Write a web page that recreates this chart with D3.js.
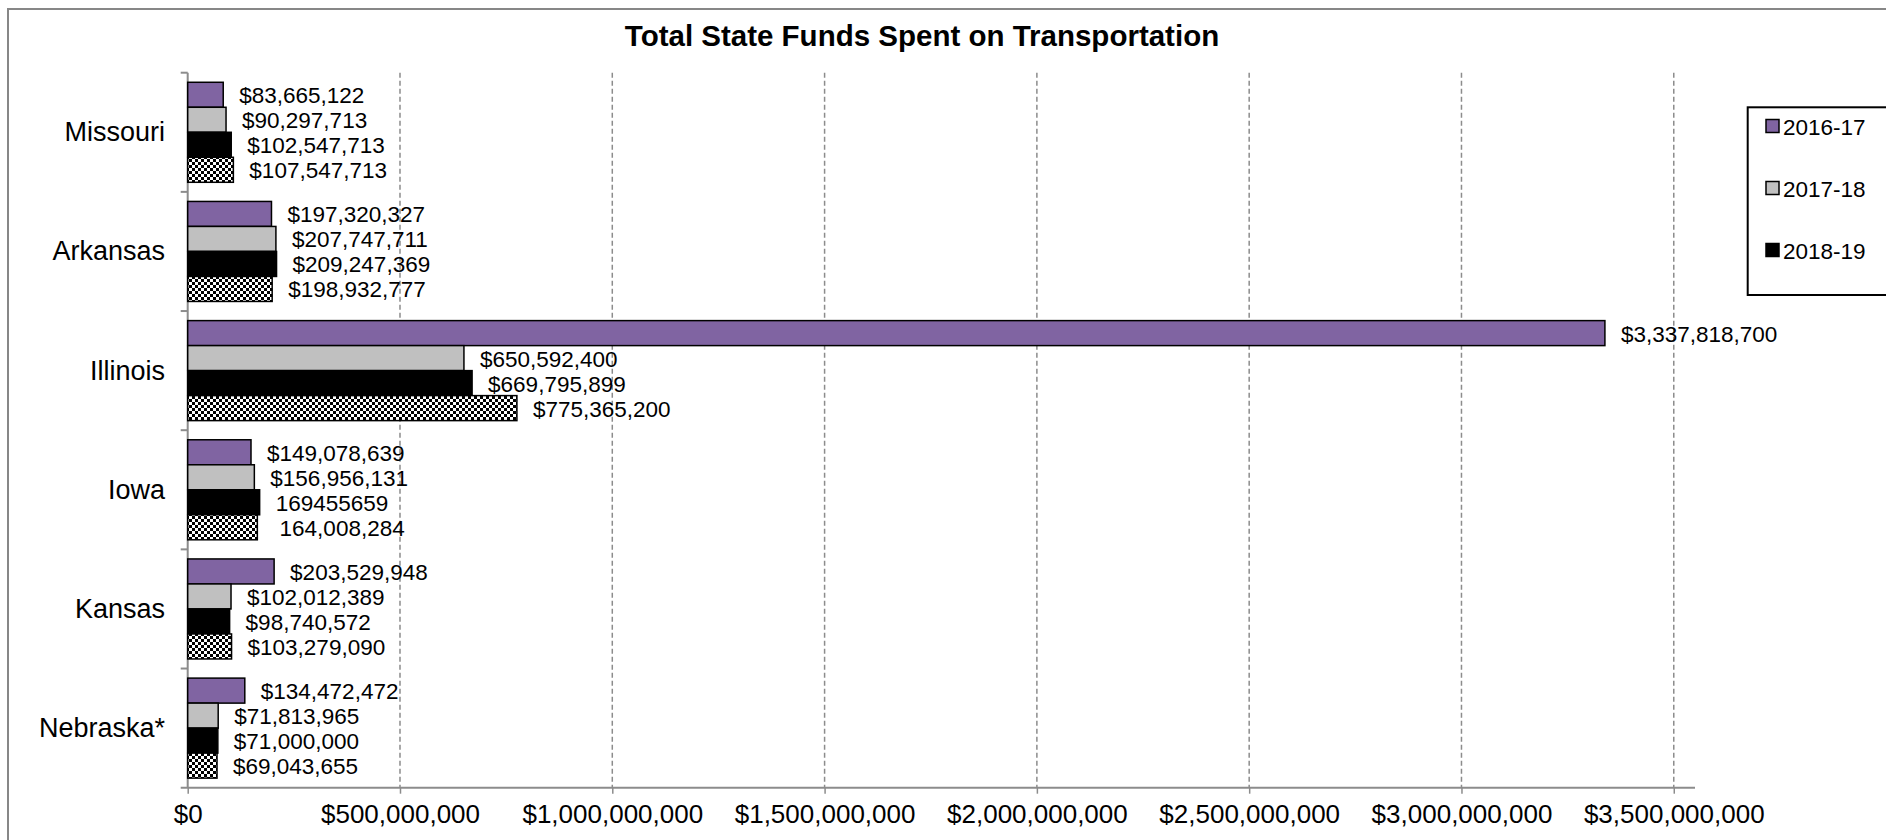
<!DOCTYPE html>
<html>
<head>
<meta charset="utf-8">
<script src="https://cdn.jsdelivr.net/npm/d3@7"></script>
<style>
  html, body { margin: 0; padding: 0; background: #fff; }
  svg { display: block; font-family: "Liberation Sans", Arial, sans-serif; }
  text { white-space: pre; }
</style>
</head>
<body>
<svg id="chart" width="1886" height="840"></svg>
<script>
// Total state funds spent on transportation, by state and fiscal year
const categories = ["Missouri", "Arkansas", "Illinois", "Iowa", "Kansas", "Nebraska*"];
const seriesNames = ["2016-17", "2017-18", "2018-19", "2019-20"];

const fy2016 = [83665122, 197320327, 3337818700, 149078639, 203529948, 134472472];
const fy2017 = [90297713, 207747711, 650592400, 156956131, 102012389, 71813965];
const fy2018 = [102547713, 209247369, 669795899, 169455659, 98740572, 71000000];
const fy2019 = [107547713, 198932777, 775365200, 164008284, 103279090, 69043655];

// Labels that were entered with their own formatting in the source table
const customLabels = [
  { series: "2018-19", category: "Iowa", text: "169455659" },
  { series: "2019-20", category: "Iowa", text: " 164,008,284" }
];

const tickValues = [0, 500000000, 1000000000, 1500000000, 2000000000, 2500000000, 3000000000, 3500000000];
const legendItems = ["2016-17", "2017-18", "2018-19"];

const seriesValues = [fy2016, fy2017, fy2018, fy2019];
const colors = { "2016-17": "#8064A2", "2017-18": "#C0C0C0", "2018-19": "#000000", "2019-20": "url(#checker)" };

const svg = d3.select("#chart");
const fmt = d3.format("$,");

// Checkerboard fill for the last fiscal year
const defs = svg.append("defs");
const pat = defs.append("pattern")
  .attr("id", "checker").attr("patternUnits", "userSpaceOnUse")
  .attr("width", 6).attr("height", 6);
pat.append("rect").attr("width", 6).attr("height", 6).attr("fill", "#fff");
pat.append("rect").attr("width", 3).attr("height", 3).attr("fill", "#000");
pat.append("rect").attr("x", 3).attr("y", 3).attr("width", 3).attr("height", 3).attr("fill", "#000");

// Chart frame (left and top edges visible)
svg.append("path")
  .attr("d", "M8,900 L8,9 L1900,9")
  .attr("fill", "none").attr("stroke", "#878787").attr("stroke-width", 2);

// Title
svg.append("text")
  .attr("x", 922).attr("y", 46)
  .attr("text-anchor", "middle")
  .attr("font-size", 29.5).attr("font-weight", "bold")
  .text("Total State Funds Spent on Transportation");

const plotLeft = 187.7, plotTop = 72.7, plotBottom = 787.7, axisEnd = 1695;

const x = d3.scaleLinear().domain([0, 3550000000]).range([plotLeft, axisEnd]);
const y = d3.scaleBand().domain(categories).range([plotTop, plotBottom]).paddingInner(0).paddingOuter(0);
const ySeries = d3.scaleBand().domain(seriesNames).range([0, y.bandwidth()]).paddingInner(0).paddingOuter(0.383);

// Dashed vertical gridlines
svg.append("g").selectAll("line")
  .data(tickValues.filter(d => d > 0))
  .join("line")
  .attr("x1", d => x(d)).attr("x2", d => x(d))
  .attr("y1", plotTop).attr("y2", plotBottom)
  .attr("stroke", "#8c8c8c").attr("stroke-width", 1.5)
  .attr("stroke-dasharray", "5,3");

// X axis
const xAxis = svg.append("g")
  .attr("transform", `translate(0,${plotBottom})`)
  .call(d3.axisBottom(x).tickValues(tickValues).tickFormat(fmt).tickSize(6).tickPadding(11));
xAxis.select(".domain").attr("d", `M${plotLeft - 7},0H${axisEnd}`)
  .attr("stroke", "#8c8c8c").attr("stroke-width", 2);
xAxis.selectAll(".tick line").attr("stroke", "#8c8c8c").attr("stroke-width", 1.5);
xAxis.selectAll(".tick text")
  .attr("font-size", 26).attr("fill", "#000")
  .attr("font-family", "Liberation Sans, Arial, sans-serif")
  .attr("dy", "0.71em");

// Y axis with category tick marks at band boundaries
const yg = svg.append("g");
yg.append("line")
  .attr("x1", plotLeft).attr("x2", plotLeft)
  .attr("y1", plotTop).attr("y2", plotBottom)
  .attr("stroke", "#8c8c8c").attr("stroke-width", 2);
yg.selectAll("line.cat")
  .data(categories)
  .join("line").attr("class", "cat")
  .attr("x1", plotLeft - 7).attr("x2", plotLeft)
  .attr("y1", d => y(d)).attr("y2", d => y(d))
  .attr("stroke", "#8c8c8c").attr("stroke-width", 2);
yg.selectAll("text")
  .data(categories)
  .join("text")
  .attr("x", 165)
  .attr("y", d => y(d) + y.bandwidth() / 2)
  .attr("text-anchor", "end")
  .attr("dominant-baseline", "central")
  .attr("font-size", 27)
  .text(d => d);

// Bars
const rows = [];
seriesNames.forEach((s, si) => {
  categories.forEach((c, ci) => {
    const custom = customLabels.find(l => l.series === s && l.category === c);
    rows.push({ series: s, category: c, value: seriesValues[si][ci], label: custom ? custom.text : fmt(seriesValues[si][ci]) });
  });
});

const barG = svg.append("g");
barG.selectAll("rect")
  .data(rows)
  .join("rect")
  .attr("x", x(0))
  .attr("y", d => y(d.category) + ySeries(d.series))
  .attr("width", d => x(d.value) - x(0))
  .attr("height", ySeries.bandwidth())
  .attr("fill", d => colors[d.series])
  .attr("stroke", "#000").attr("stroke-width", 1.5);

// Value labels
barG.selectAll("text")
  .data(rows)
  .join("text")
  .attr("x", d => x(d.value) + 16)
  .attr("y", d => y(d.category) + ySeries(d.series) + ySeries.bandwidth() / 2 + 1)
  .attr("dominant-baseline", "central")
  .attr("font-size", 22.5)
  .text(d => d.label);

// Legend
const lg = svg.append("g");
lg.append("rect")
  .attr("x", 1747.7).attr("y", 107.3)
  .attr("width", 200).attr("height", 187.7)
  .attr("fill", "#fff").attr("stroke", "#000").attr("stroke-width", 2);
const li = lg.selectAll("g.item")
  .data(legendItems)
  .join("g").attr("class", "item")
  .attr("transform", (d, i) => `translate(1766,${126 + i * 62})`);
li.append("rect")
  .attr("x", 0).attr("y", -6.5)
  .attr("width", 13).attr("height", 13)
  .attr("fill", d => colors[d]).attr("stroke", "#000").attr("stroke-width", 1.5);
li.append("text")
  .attr("x", 17).attr("y", 1)
  .attr("dominant-baseline", "central")
  .attr("font-size", 22.5)
  .text(d => d);
</script>
</body>
</html>
